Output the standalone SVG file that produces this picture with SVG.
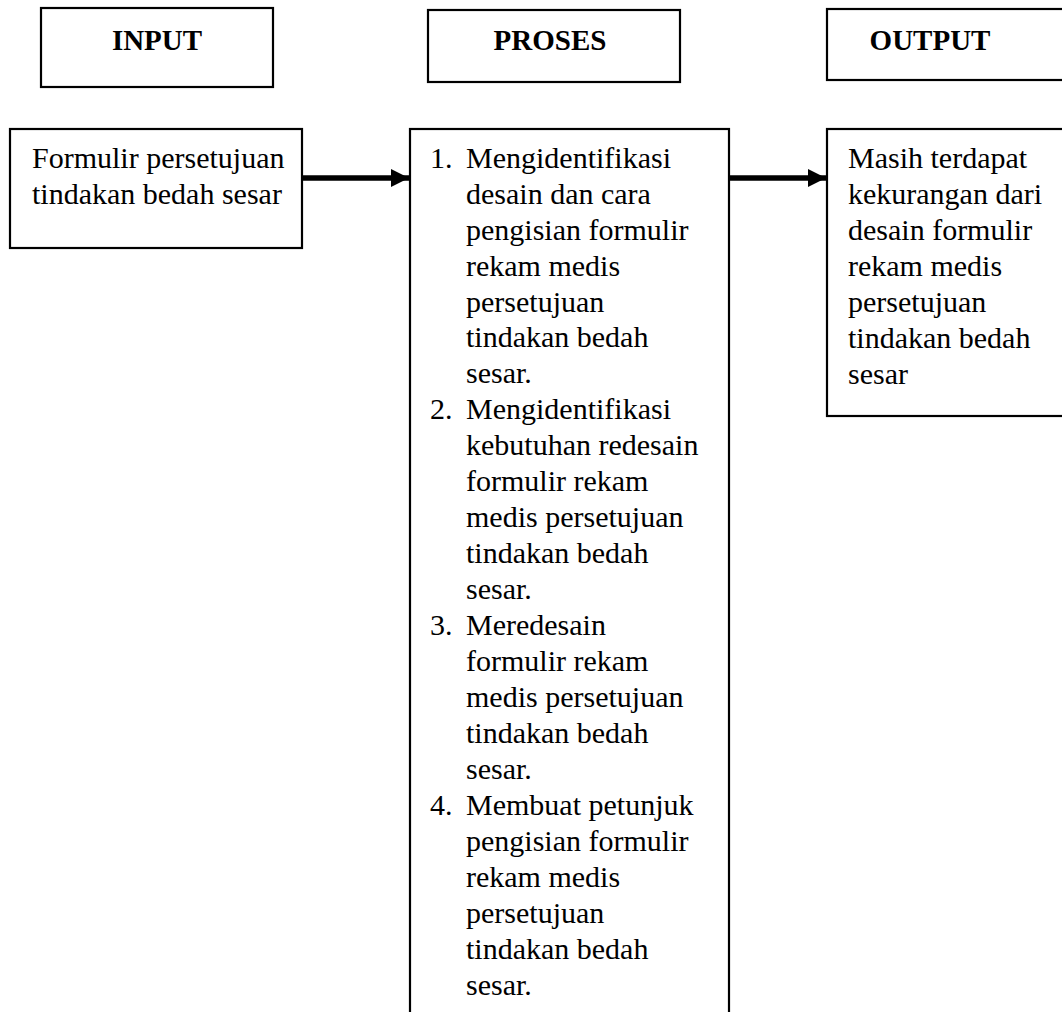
<svg xmlns="http://www.w3.org/2000/svg" width="1062" height="1012" viewBox="0 0 1062 1012">
<style>
.box{fill:#fff;stroke:#000;stroke-width:2.2}
.hd{font-family:"Liberation Serif","Times New Roman",serif;font-size:29px;font-weight:bold;fill:#000;text-anchor:middle}
.tx{font-family:"Liberation Serif","Times New Roman",serif;font-size:30px;fill:#000}
.arr{stroke:#000;stroke-width:5.5;fill:none}
</style>
<defs>
<marker id="ah" markerUnits="userSpaceOnUse" markerWidth="20" markerHeight="20" refX="18" refY="10" orient="auto">
<path d="M0,1 L18,10 L0,19 Z" fill="#000"/>
</marker>
</defs>
<rect width="1062" height="1012" fill="#fff"/>
<g id="input-header">
<rect class="box" x="41" y="8" width="232" height="79"/>
<text class="hd" x="157" y="50">INPUT</text>
</g>
<g id="proses-header">
<rect class="box" x="428" y="10" width="252" height="72"/>
<text class="hd" x="550" y="50">PROSES</text>
</g>
<g id="output-header">
<rect class="box" x="827" y="9" width="260" height="71"/>
<text class="hd" x="930" y="50">OUTPUT</text>
</g>
<g id="input">
<rect class="box" x="10" y="129" width="292" height="119"/>
<text class="tx" x="32" y="168">Formulir persetujuan</text>
<text class="tx" x="32" y="204">tindakan bedah sesar</text>
</g>
<g id="proses">
<rect class="box" x="410" y="129" width="319" height="900"/>
<g class="tx">
<text x="430" y="168">1.</text>
<text x="466" y="168">Mengidentifikasi</text>
<text x="466" y="204">desain dan cara</text>
<text x="466" y="240">pengisian formulir</text>
<text x="466" y="276">rekam medis</text>
<text x="466" y="312">persetujuan</text>
<text x="466" y="347">tindakan bedah</text>
<text x="466" y="383">sesar.</text>
<text x="430" y="419">2.</text>
<text x="466" y="419">Mengidentifikasi</text>
<text x="466" y="455">kebutuhan redesain</text>
<text x="466" y="491">formulir rekam</text>
<text x="466" y="527">medis persetujuan</text>
<text x="466" y="563">tindakan bedah</text>
<text x="466" y="599">sesar.</text>
<text x="430" y="635">3.</text>
<text x="466" y="635">Meredesain</text>
<text x="466" y="671">formulir rekam</text>
<text x="466" y="707">medis persetujuan</text>
<text x="466" y="743">tindakan bedah</text>
<text x="466" y="779">sesar.</text>
<text x="430" y="815">4.</text>
<text x="466" y="815">Membuat petunjuk</text>
<text x="466" y="851">pengisian formulir</text>
<text x="466" y="887">rekam medis</text>
<text x="466" y="923">persetujuan</text>
<text x="466" y="959">tindakan bedah</text>
<text x="466" y="995">sesar.</text>
</g>
</g>
<g id="output">
<rect class="box" x="827" y="129" width="260" height="287"/>
<g class="tx">
<text x="848" y="168">Masih terdapat</text>
<text x="848" y="204">kekurangan dari</text>
<text x="848" y="240">desain formulir</text>
<text x="848" y="276">rekam medis</text>
<text x="848" y="312">persetujuan</text>
<text x="848" y="348">tindakan bedah</text>
<text x="848" y="384">sesar</text>
</g>
</g>
<g id="connectors">
<line class="arr" x1="302" y1="178" x2="409" y2="178" marker-end="url(#ah)"/>
<line class="arr" x1="729" y1="178" x2="826" y2="178" marker-end="url(#ah)"/>
</g>
</svg>
